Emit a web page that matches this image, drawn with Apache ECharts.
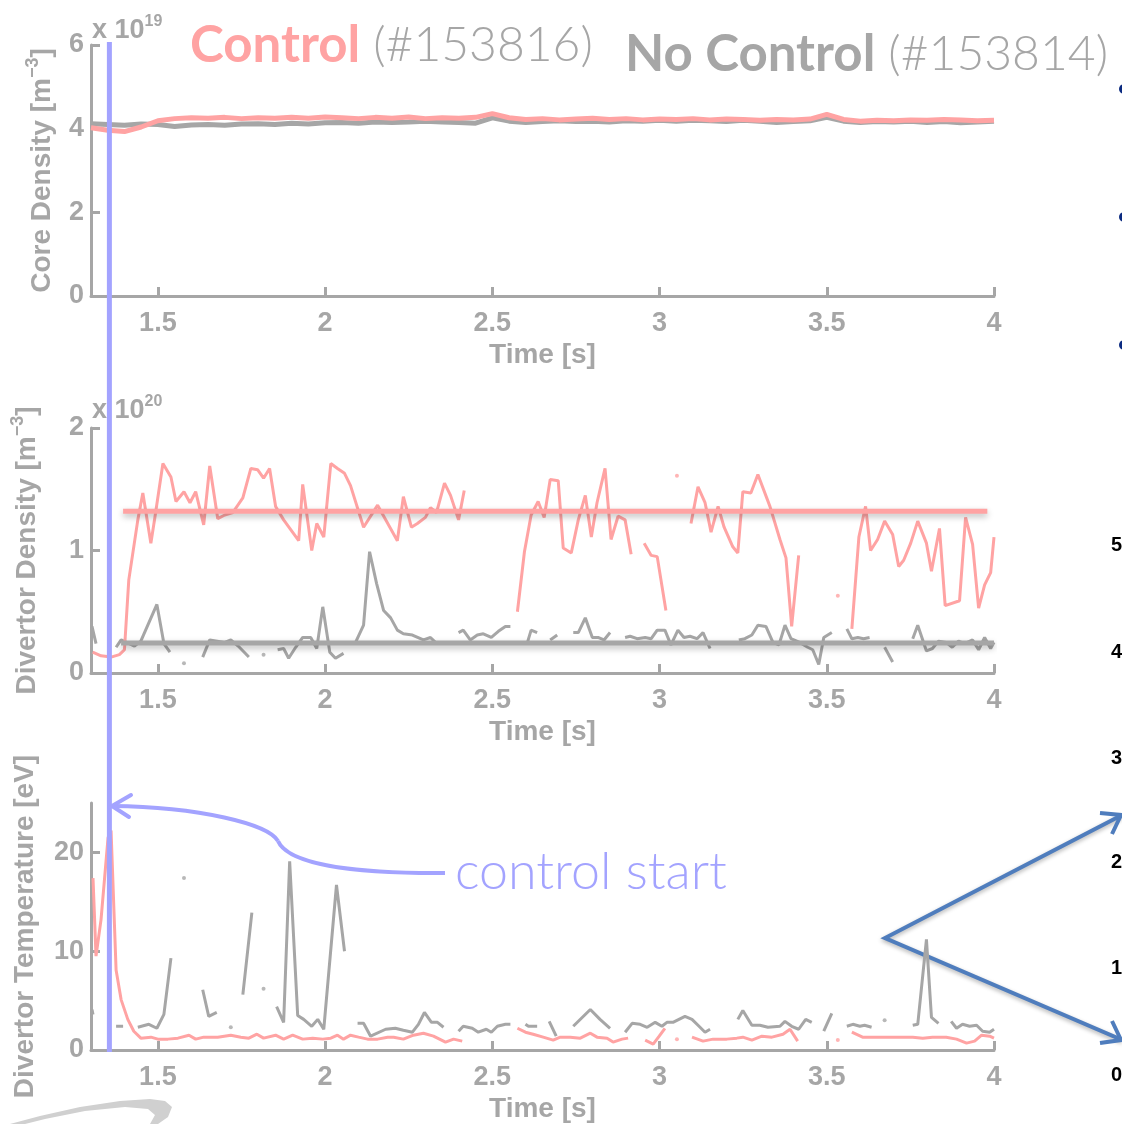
<!DOCTYPE html>
<html>
<head>
<meta charset="utf-8">
<script src="https://cdn.jsdelivr.net/npm/echarts@6/dist/echarts.min.js"></script>
<style>
html,body{margin:0;padding:0;background:#fff}
#main{width:1122px;height:1124px}
</style>
</head>
<body>
<div id="main"></div>
<script>
var timeTicks = [1.5, 2, 2.5, 3, 3.5, 4];
var coreTicks = [0, 2, 4, 6];
var densTicks = [0, 1, 2];
var tempTicks = [0, 10, 20];
var controlStart = 1.355;

var coreT = [1.30,1.35,1.40,1.45,1.50,1.55,1.60,1.65,1.70,1.75,1.80,1.85,1.90,1.95,2.00,2.05,2.10,2.15,2.20,2.25,2.30,2.35,2.40,2.45,2.50,2.55,2.60,2.65,2.70,2.75,2.80,2.85,2.90,2.95,3.00,3.05,3.10,3.15,3.20,3.25,3.30,3.35,3.40,3.45,3.50,3.55,3.60,3.65,3.70,3.75,3.80,3.85,3.90,3.95,4.00];
var ctrlCore = [4.02,3.96,3.93,4.04,4.19,4.24,4.26,4.25,4.27,4.24,4.26,4.25,4.27,4.25,4.28,4.26,4.24,4.27,4.25,4.28,4.24,4.26,4.25,4.27,4.36,4.26,4.22,4.24,4.21,4.23,4.25,4.22,4.24,4.21,4.23,4.22,4.24,4.21,4.23,4.22,4.20,4.22,4.21,4.23,4.34,4.22,4.18,4.20,4.19,4.21,4.20,4.22,4.21,4.19,4.20];
var noCore = [4.12,4.10,4.08,4.11,4.10,4.05,4.09,4.10,4.08,4.11,4.12,4.10,4.13,4.11,4.14,4.15,4.13,4.16,4.15,4.16,4.18,4.16,4.15,4.13,4.26,4.18,4.15,4.17,4.19,4.17,4.18,4.16,4.19,4.18,4.20,4.18,4.20,4.19,4.17,4.20,4.18,4.15,4.17,4.19,4.27,4.18,4.15,4.17,4.16,4.18,4.15,4.17,4.14,4.16,4.18];

// divertor density, x1e20, null = gap in signal
var ctrlDens = [[1.305,0.17],[1.33,0.14],[1.36,0.13],[1.385,0.15],[1.40,0.19],[1.413,0.76],[1.44,1.25],[1.455,1.47],[1.479,1.06],[1.491,1.27],[1.515,1.71],[1.539,1.60],[1.554,1.40],[1.578,1.48],[1.596,1.39],[1.613,1.48],[1.637,1.21],[1.655,1.69],[1.679,1.26],[1.70,1.29],[1.724,1.31],[1.754,1.43],[1.778,1.67],[1.798,1.66],[1.816,1.59],[1.834,1.67],[1.852,1.36],[1.876,1.25],[1.921,1.08],[1.933,1.54],[1.96,1.00],[1.975,1.22],[1.996,1.11],[2.017,1.71],[2.037,1.67],[2.058,1.63],[2.076,1.53],[2.115,1.19],[2.157,1.37],[2.216,1.08],[2.234,1.44],[2.258,1.19],[2.276,1.22],[2.30,1.27],[2.315,1.35],[2.333,1.31],[2.357,1.55],[2.375,1.45],[2.399,1.25],[2.416,1.49],null,
  [2.575,0.50],[2.596,0.99],[2.616,1.29],[2.637,1.40],[2.655,1.27],[2.673,1.58],[2.697,1.57],[2.712,1.02],[2.736,0.98],[2.757,1.25],[2.778,1.45],[2.796,1.11],[2.813,1.39],[2.837,1.67],[2.855,1.09],[2.876,1.28],[2.897,1.25],[2.915,0.97],null,
  [2.954,1.06],[2.975,0.96],[2.993,0.95],[3.019,0.51],null,
  [3.094,1.22],[3.115,1.52],[3.136,1.39],[3.154,1.15],[3.175,1.36],[3.193,1.19],[3.219,1.03],[3.234,0.98],[3.249,1.48],[3.273,1.47],[3.294,1.62],[3.330,1.36],[3.360,1.09],[3.378,0.94],[3.395,0.38],[3.416,0.96],null,
  [3.575,0.36],[3.596,1.11],[3.616,1.36],[3.631,1.00],[3.652,1.09],[3.673,1.24],[3.697,1.13],[3.715,0.87],[3.730,0.92],[3.751,1.06],[3.772,1.24],[3.798,1.06],[3.813,0.83],[3.837,1.18],[3.854,0.55],[3.897,0.59],[3.915,1.27],[3.936,1.05],[3.954,0.53],[3.972,0.72],[3.99,0.82],[4.0,1.11]];
var ctrlDensDots = [[3.052,1.61],[3.533,0.63]];
var noDens = [[1.303,0.38],[1.315,0.24],null,[1.375,0.21],[1.39,0.27],[1.43,0.22],[1.449,0.26],[1.497,0.56],[1.518,0.24],[1.536,0.17],null,
  [1.634,0.13],[1.655,0.27],[1.70,0.25],[1.718,0.27],[1.74,0.22],[1.772,0.13],null,
  [1.858,0.19],[1.876,0.20],[1.891,0.12],[1.912,0.21],[1.933,0.29],[1.957,0.29],[1.975,0.20],[1.993,0.54],[2.014,0.17],[2.031,0.12],[2.055,0.16],null,
  [2.091,0.25],[2.115,0.39],[2.133,0.99],[2.154,0.73],[2.175,0.51],[2.196,0.45],[2.216,0.35],[2.234,0.32],[2.261,0.31],[2.294,0.27],[2.315,0.29],[2.330,0.25],[2.354,0.25],null,
  [2.399,0.33],[2.413,0.35],[2.434,0.27],[2.455,0.31],[2.473,0.32],[2.497,0.29],[2.518,0.34],[2.539,0.38],[2.554,0.38],null,
  [2.605,0.25],[2.616,0.35],[2.634,0.33],null,[2.673,0.27],[2.694,0.31],null,
  [2.742,0.33],[2.757,0.33],[2.778,0.45],[2.799,0.29],[2.816,0.29],[2.834,0.27],[2.852,0.33],null,
  [2.897,0.29],[2.912,0.30],[2.933,0.28],[2.957,0.29],[2.975,0.28],[2.993,0.35],[3.016,0.35],[3.034,0.23],[3.055,0.35],[3.073,0.29],[3.091,0.30],[3.112,0.28],[3.130,0.33],[3.151,0.20],null,
  [3.237,0.27],[3.255,0.28],[3.276,0.31],[3.294,0.39],[3.318,0.38],[3.339,0.25],[3.357,0.23],[3.375,0.39],[3.393,0.28],[3.419,0.25],[3.443,0.21],[3.458,0.19],[3.476,0.07],[3.491,0.29],[3.515,0.33],null,
  [3.560,0.36],[3.575,0.28],[3.593,0.29],[3.610,0.28],[3.628,0.29],null,[3.673,0.21],[3.697,0.09],null,
  [3.757,0.28],[3.772,0.39],[3.798,0.18],[3.816,0.20],[3.834,0.26],[3.857,0.25],[3.875,0.21],[3.894,0.26],[3.912,0.24],[3.936,0.27],[3.954,0.19],[3.972,0.29],[3.99,0.20],[4.0,0.25]];
var noDensDots = [[1.578,0.08],[1.816,0.15]];
var ctrlTarget = [[1.396,1.32],[3.98,1.32]];
var noTarget = [[1.39,0.245],[4.0,0.245]];

// divertor temperature, eV
var ctrlTemp = [[1.306,17.4],[1.315,9.5],[1.33,13.2],[1.351,21.5],[1.36,22.2],[1.375,8.1],[1.39,5.1],[1.41,3.1],[1.428,1.9],[1.449,1.2],[1.479,1.3],[1.50,1.1],[1.53,1.1],[1.56,1.2],[1.593,1.5],[1.613,1.1],[1.637,1.3],[1.679,1.3],[1.718,1.5],[1.748,1.3],[1.772,1.2],[1.796,1.6],[1.816,1.2],[1.852,1.5],[1.876,1.1],[1.903,1.5],[1.933,1.1],[1.963,1.2],[1.993,1.1],[2.017,1.2],[2.037,1.5],[2.055,1.1],[2.076,1.5],[2.10,1.3],[2.127,1.1],[2.157,1.1],[2.187,1.3],[2.205,1.3],[2.234,1.1],[2.264,1.5],[2.294,1.7],[2.324,1.4],[2.36,0.8],[2.384,1.1],[2.41,0.9],null,
  [2.575,2.2],[2.599,1.8],[2.622,1.6],[2.652,1.3],[2.682,1.0],[2.703,1.3],[2.733,1.3],[2.763,1.2],[2.793,1.7],[2.813,1.3],[2.843,1.2],[2.861,0.8],[2.888,1.1],[2.906,1.2],null,
  [2.957,1.0],[2.981,0.6],[2.999,1.4],[3.016,2.2],null,
  [3.097,1.3],[3.13,0.9],[3.16,1.1],[3.201,1.1],[3.231,1.2],[3.249,1.3],[3.276,1.0],[3.306,1.4],[3.336,1.3],[3.369,1.6],[3.39,2.1],[3.413,0.9],null,
  [3.575,1.8],[3.607,1.3],[3.637,1.3],[3.718,1.3],[3.757,1.3],[3.787,1.2],[3.816,1.3],[3.857,1.3],[3.888,1.1],[3.918,0.7],[3.942,0.9],[3.963,1.5],[3.987,1.4],[4.0,1.2]];
var ctrlTempDots = [[3.052,1.1],[3.533,1.0]];
var noTemp = [[1.303,4.1],[1.306,3.6],null,[1.375,2.4],[1.396,2.4],null,
  [1.44,2.3],[1.473,2.6],[1.497,2.2],[1.518,3.6],[1.539,9.3],null,
  [1.634,6.1],[1.652,3.4],[1.676,3.8],null,[1.754,5.6],[1.781,13.9],null,
  [1.855,4.4],[1.876,2.8],[1.894,19.1],[1.918,3.5],[1.936,3.1],[1.96,2.4],[1.978,3.1],[1.996,2.1],[2.034,16.7],[2.058,10.0],null,
  [2.097,2.7],[2.115,2.7],[2.136,1.4],[2.181,2.1],[2.21,2.2],[2.234,2.0],[2.261,1.8],[2.279,2.6],[2.297,3.8],[2.318,2.8],[2.336,2.8],[2.354,2.3],null,
  [2.399,1.9],[2.413,2.4],[2.44,2.2],[2.458,1.8],[2.482,2.1],[2.497,1.8],[2.515,2.4],[2.539,2.6],[2.554,2.6],null,
  [2.599,2.6],[2.608,2.4],[2.634,2.4],null,[2.67,2.9],[2.691,1.4],null,
  [2.742,2.4],[2.793,4.1],[2.822,3.1],[2.852,2.2],null,
  [2.897,1.8],[2.918,2.7],[2.942,2.6],[2.963,2.3],[2.987,2.8],[3.007,2.4],[3.022,2.8],[3.04,2.8],[3.076,3.4],[3.097,3.1],[3.115,2.5],[3.136,1.8],[3.151,2.1],null,
  [3.234,3.1],[3.249,4.0],[3.276,2.5],[3.30,2.5],[3.324,2.3],[3.36,2.4],[3.375,2.9],[3.395,2.4],[3.416,2.1],[3.437,3.1],[3.455,2.8],null,
  [3.491,1.9],[3.515,3.7],null,[3.56,2.4],[3.578,2.6],[3.599,2.4],[3.613,2.5],[3.634,2.3],null,
  [3.757,2.5],[3.772,2.6],[3.798,11.2],[3.813,3.3],[3.834,2.7],null,
  [3.872,2.9],[3.888,2.2],[3.906,2.6],[3.927,2.4],[3.948,2.5],[3.966,1.9],[3.987,1.8],[4.0,2.1]];
var noTempDots = [[1.578,17.4],[1.718,2.3],[1.816,6.2],[3.673,3.0]];

var RED = '#ffa3a3';
var GRAY = '#a6a6a6';
var BLUE = '#a3a3ff';
var AXFONT = '"Liberation Sans", Arial, sans-serif';
var TFONT = 'Lato, "Open Sans", sans-serif';

function gaps(arr) {
    return arr.map(function (p) { return p === null ? ['-', '-'] : p; });
}
function pairs(t, v) {
    return t.map(function (x, i) { return [x, v[i]]; });
}

function xAx(idx) {
    return {
        type: 'value', gridIndex: idx, min: 1.3, max: 4,
        name: 'Time [s]', nameLocation: 'middle', nameGap: 45,
        nameTextStyle: {color: GRAY, fontSize: 28, fontWeight: 'bold', fontFamily: AXFONT},
        axisLine: {lineStyle: {color: GRAY, width: 3}},
        axisTick: {inside: true, length: 9, lineStyle: {color: GRAY, width: 3}, customValues: timeTicks},
        axisLabel: {color: GRAY, fontSize: 27, fontWeight: 'bold', fontFamily: AXFONT, margin: 14, customValues: timeTicks},
        splitLine: {show: false}
    };
}
function yAx(idx, max, ticks, name, gap) {
    return {
        type: 'value', gridIndex: idx, min: 0, max: max,
        name: name, nameLocation: 'middle', nameGap: gap, nameRotate: 90,
        nameTextStyle: {
            color: GRAY, fontSize: 28, fontWeight: 'bold', fontFamily: AXFONT,
            rich: {
                b: {color: GRAY, fontSize: 28, fontWeight: 'bold', fontFamily: AXFONT, lineHeight: 32, verticalAlign: 'bottom'},
                s: {color: GRAY, fontSize: 18, fontWeight: 'bold', fontFamily: AXFONT, lineHeight: 18, verticalAlign: 'top', padding: [0, 0, 14, 0]}
            }
        },
        axisLine: {show: true, lineStyle: {color: GRAY, width: 3}},
        axisTick: {show: true, inside: true, length: 9, lineStyle: {color: GRAY, width: 3}, customValues: ticks},
        axisLabel: {color: GRAY, fontSize: 27, fontWeight: 'bold', fontFamily: AXFONT, margin: 7, customValues: ticks},
        splitLine: {show: false}
    };
}
function ln(idx, data, color, width, shadow) {
    var s = {
        type: 'line', xAxisIndex: idx, yAxisIndex: idx, data: data,
        showSymbol: false, connectNulls: false, silent: true,
        lineStyle: {color: color, width: width}
    };
    if (shadow) {
        s.lineStyle.shadowColor = 'rgba(0,0,0,0.28)';
        s.lineStyle.shadowBlur = 6;
        s.lineStyle.shadowOffsetY = 3;
    }
    return s;
}
function dots(idx, data, color) {
    return {
        type: 'scatter', xAxisIndex: idx, yAxisIndex: idx, data: data,
        symbolSize: 4, silent: true, itemStyle: {color: color}
    };
}

var chart = echarts.init(document.getElementById('main'), null, {renderer: 'canvas'});
var option = {
    animation: false,
    backgroundColor: '#fff',
    grid: [
        {left: 91, top: 45, width: 903, height: 251},
        {left: 91, top: 428, width: 903, height: 245},
        {left: 91, top: 803, width: 903, height: 248}
    ],
    xAxis: [xAx(0), xAx(1), xAx(2)],
    yAxis: [
        yAx(0, 6, coreTicks, '{b|Core Density [m}{s|−3}{b|]}', 35),
        yAx(1, 2, densTicks, '{b|Divertor Density [m}{s|−3}{b|]}', 50),
        yAx(2, 25, tempTicks, '{b|Divertor Temperature [eV]}', 52)
    ],
    series: [
        ln(0, pairs(coreT, noCore), GRAY, 5),
        ln(0, pairs(coreT, ctrlCore), RED, 5),
        ln(1, gaps(noDens), GRAY, 3),
        ln(1, gaps(ctrlDens), RED, 3),
        dots(1, noDensDots, GRAY),
        dots(1, ctrlDensDots, RED),
        ln(1, noTarget, GRAY, 5, true),
        ln(1, ctrlTarget, RED, 5, true),
        ln(2, gaps(noTemp), GRAY, 3),
        ln(2, gaps(ctrlTemp), RED, 3),
        dots(2, noTempDots, GRAY),
        dots(2, ctrlTempDots, RED)
    ]
};
chart.setOption(option);

var vx = chart.convertToPixel({xAxisIndex: 0}, controlStart);
var yTop = chart.convertToPixel({yAxisIndex: 0}, 6) - 3;
var yBot = chart.convertToPixel({yAxisIndex: 2}, 0) + 2;

var expStyle = {
    a: {fontSize: 27, fontWeight: 'bold', fontFamily: AXFONT, fill: GRAY},
    s: {fontSize: 16, fontWeight: 'bold', fontFamily: AXFONT, fill: GRAY, padding: [0, 0, 18, 0]}
};
var navy = '#0b2a80';
var steel = '#4f7dbd';
function num(txt, y) {
    return {type: 'text', x: 1111, y: y, style: {text: txt, fontSize: 20, fontWeight: 'bold', fontFamily: AXFONT, fill: '#000', verticalAlign: 'middle'}};
}
function title(x, y, main, tag, color) {
    return {type: 'text', x: x, y: y, style: {
        rich: {
            c: {fontSize: 51, fontWeight: 'bold', fontFamily: TFONT, fill: color},
            n: {fontSize: 48, fontWeight: 300, fontFamily: TFONT, fill: GRAY}
        },
        text: '{c|' + main + '}{n|\u00a0(' + tag + ')}', verticalAlign: 'bottom'
    }};
}

chart.setOption({
    graphic: [
        title(190, 71, 'Control', '#153816', RED),
        title(625, 80, 'No Control', '#153814', GRAY),
        {type: 'text', x: 92, y: 48, style: {text: '{a|x 10}{s|19}', rich: expStyle, verticalAlign: 'bottom'}},
        {type: 'text', x: 92, y: 428, style: {text: '{a|x 10}{s|20}', rich: expStyle, verticalAlign: 'bottom'}},
        {type: 'line', shape: {x1: vx, y1: yTop, x2: vx, y2: yBot}, style: {stroke: BLUE, lineWidth: 5}, z: 10},
        {type: 'line', shape: {x1: 445, y1: 873, x2: 420, y2: 873}, style: {stroke: BLUE, lineWidth: 4}, z: 10},
        {type: 'bezierCurve', shape: {x1: 420, y1: 873, cpx1: 350, cpy1: 872, cpx2: 288, cpy2: 864, x2: 278, y2: 841},
            style: {stroke: BLUE, lineWidth: 4, fill: null}, z: 10},
        {type: 'bezierCurve', shape: {x1: 278, y1: 841, cpx1: 268, cpy1: 824, cpx2: 200, cpy2: 807, x2: 112, y2: 806},
            style: {stroke: BLUE, lineWidth: 4, fill: null}, z: 10},
        {type: 'polyline', shape: {points: [[131, 795], [112, 806], [129, 817]]},
            style: {stroke: BLUE, lineWidth: 4, fill: null, lineCap: 'round', lineJoin: 'round'}, z: 10},
        {type: 'text', x: 455, y: 898, style: {text: 'control start', fontSize: 52, fontWeight: 300, fontFamily: TFONT, fill: BLUE, verticalAlign: 'bottom'}},
        // pieces of the neighbouring slide content
        {type: 'circle', shape: {cx: 1124, cy: 89, r: 5}, style: {fill: navy}},
        {type: 'circle', shape: {cx: 1124, cy: 217, r: 5}, style: {fill: navy}},
        {type: 'circle', shape: {cx: 1124, cy: 345, r: 5}, style: {fill: navy}},
        num('5', 545), num('4', 652), num('3', 758), num('2', 862), num('1', 968), num('0', 1075),
        {type: 'polyline', shape: {points: [[1122, 815], [885, 938], [1122, 1040]]},
            style: {stroke: steel, lineWidth: 4, fill: null, shadowColor: 'rgba(0,0,0,0.3)', shadowBlur: 4, shadowOffsetY: 2}},
        {type: 'polyline', shape: {points: [[1100, 813], [1121, 815], [1112, 834]]},
            style: {stroke: steel, lineWidth: 4, fill: null}},
        {type: 'polyline', shape: {points: [[1112, 1021], [1121, 1040], [1100, 1043]]},
            style: {stroke: steel, lineWidth: 4, fill: null}},
        {type: 'polygon', shape: {points: [[10, 1124], [40, 1116], [80, 1107], [120, 1101], [150, 1099], [165, 1101], [172, 1107], [168, 1117], [158, 1124],
            [150, 1124], [155, 1115], [148, 1109], [125, 1107], [85, 1111], [45, 1119], [25, 1124]]},
            style: {fill: '#d0d0d0'}}
    ]
});
</script>
</body>
</html>
